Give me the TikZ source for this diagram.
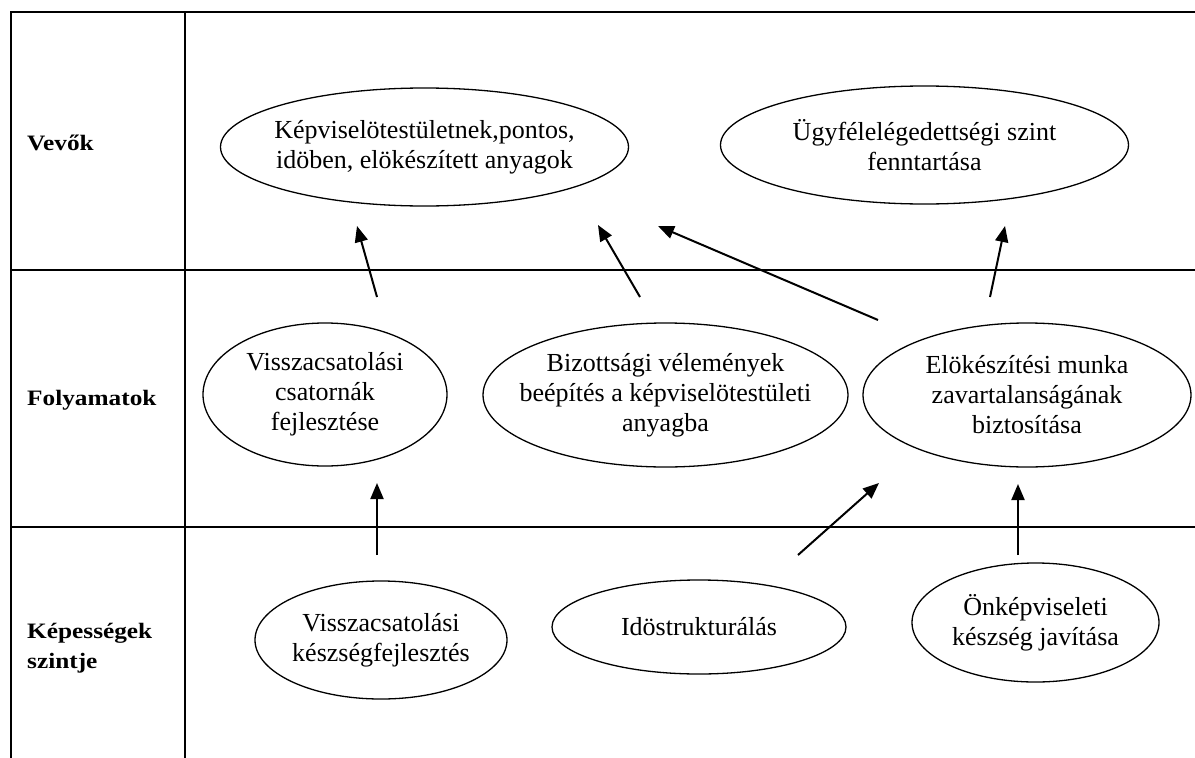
\documentclass[tikz,border=0pt]{standalone}
\usepackage{fontspec}
\setmainfont{Liberation Serif}
\newfontfamily\lblfont[FakeStretch=1.15]{Liberation Serif}
\usetikzlibrary{shapes.geometric,arrows.meta}

\begin{document}
\begin{tikzpicture}[x=1pt,y=-1pt,
  frame/.style={line width=2pt},
  bubble/.style={draw, ellipse, line width=1.3pt, inner sep=0pt},
  bubbletext/.style={align=center, inner sep=0pt, font=\fontsize{26}{30}\selectfont},
  rowlabel/.style={anchor=west, align=left, inner sep=0pt, font=\lblfont\bfseries\fontsize{22}{30}\selectfont},
  arr/.style={line width=2pt, -{Triangle[length=16pt,width=13pt]}}
]
\useasboundingbox (0,0) rectangle (1195,758);

% table grid
\draw[frame] (11,758) -- (11,12) -- (1195,12);
\draw[frame] (185,12) -- (185,758);
\draw[frame] (11,270) -- (1195,270);
\draw[frame] (11,527) -- (1195,527);

% row headings
\node[rowlabel] (rVevok) at (27,143) {Vevők};
\node[rowlabel] (rFoly) at (27,400) {Folyamatok};
\node[rowlabel] (rKep) at (27,648) {Képességek\\szintje};

% customer level
\node[bubble, minimum width=408pt, minimum height=118pt] (e1) at (424.5,147) {};
\node[bubbletext] (t1) at (e1) {Képviselötestületnek,pontos,\\idöben, elökészített anyagok};
\node[bubble, minimum width=408pt, minimum height=118pt] (e2) at (924.5,145) {};
\node[bubbletext] (t2) at (e2) {Ügyfélelégedettségi szint\\fenntartása};

% process level
\node[bubble, minimum width=244pt, minimum height=143pt] (e3) at (325,394.5) {};
\node[bubbletext] (t3) at (e3) {Visszacsatolási\\csatornák\\fejlesztése};
\node[bubble, minimum width=365pt, minimum height=144pt] (e4) at (665.5,395) {};
\node[bubbletext] (t4) at (e4) {Bizottsági vélemények\\beépítés a képviselötestületi\\anyagba};
\node[bubble, minimum width=328pt, minimum height=144pt] (e5) at (1027,395) {};
\node[bubbletext] (t5) at (e5) {Elökészítési munka\\zavartalanságának\\biztosítása};

% capability level
\node[bubble, minimum width=252pt, minimum height=118pt] (e6) at (381,640) {};
\node[bubbletext] (t6) at (e6) {Visszacsatolási\\készségfejlesztés};
\node[bubble, minimum width=294pt, minimum height=94pt] (e7) at (699,627) {};
\node[bubbletext] (t7) at (e7) {Idöstrukturálás};
\node[bubble, minimum width=247pt, minimum height=119pt] (e8) at (1035.5,622.5) {};
\node[bubbletext] (t8) at (e8) {Önképviseleti\\készség javítása};

% free-standing arrow ends
\coordinate (e3up) at (377,297);   \coordinate (e1lo) at (357,226);
\coordinate (e4up) at (640,297);   \coordinate (e1rt) at (598,225);
\coordinate (e5ul) at (878,320);   \coordinate (e1fr) at (658,226);
\coordinate (e5up) at (990,297);   \coordinate (e2lo) at (1005,226);
\coordinate (e6up) at (377,555);   \coordinate (e3lo) at (377,483);
\coordinate (e7ur) at (798,555);   \coordinate (e5ll) at (879,483);
\coordinate (e8up) at (1018,555);  \coordinate (e5lo) at (1018,484);

\draw[arr] (e3up) -- (e1lo);
\draw[arr] (e4up) -- (e1rt);
\draw[arr] (e5ul) -- (e1fr);
\draw[arr] (e5up) -- (e2lo);
\draw[arr] (e6up) -- (e3lo);
\draw[arr] (e7ur) -- (e5ll);
\draw[arr] (e8up) -- (e5lo);
\end{tikzpicture}
\end{document}
